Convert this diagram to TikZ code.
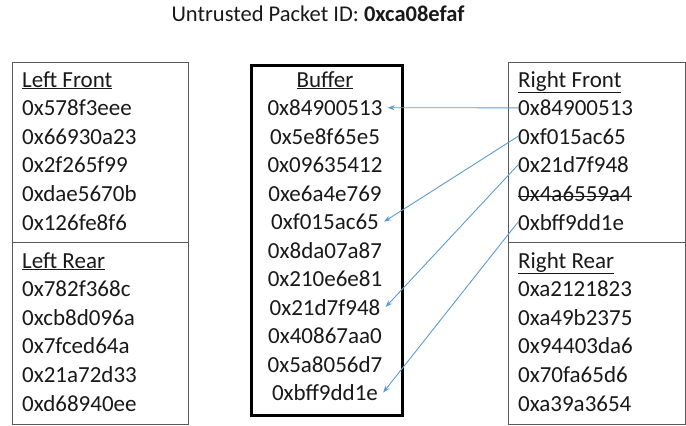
\documentclass[tikz,border=0pt]{standalone}
\usepackage{fontspec}
\setmainfont{Carlito}
\usetikzlibrary{arrows.meta}
\definecolor{linkblue}{RGB}{91,155,213}
\definecolor{framegray}{RGB}{89,89,89}
\definecolor{inkgray}{RGB}{25,25,25}
\begin{document}
\begin{tikzpicture}[x=1pt,y=-1pt,
  thinframe/.style={draw=framegray, line width=1.2pt, anchor=north west, inner sep=0pt},
  bufframe/.style={draw=black, line width=3pt, anchor=north west, inner sep=0pt},
  entry/.style={anchor=base west, inner sep=0pt, font=\fontsize{23}{28}\selectfont, text=inkgray},
  bufentry/.style={anchor=base, inner ysep=0pt, inner xsep=5pt, font=\fontsize{23}{28}\selectfont, text=inkgray},
  strike/.style={draw=inkgray, line width=1.1pt},
  link/.style={draw=linkblue, line width=0.9pt, -{Stealth[length=7pt,width=5pt]}}
]
\useasboundingbox (0,0) rectangle (686,426);

% heading
\node[anchor=base, font=\fontsize{22.5}{26}\selectfont, text=inkgray] (title) at (318,21)
  {Untrusted Packet ID: \textbf{0xca08efaf}};

% frames
\node[thinframe, minimum width=176pt, minimum height=180pt] (lfbox) at (12,62) {};
\node[thinframe, minimum width=176pt, minimum height=182pt] (lrbox) at (12,242) {};
\node[thinframe, minimum width=177pt, minimum height=180pt] (rfbox) at (508,62) {};
\node[thinframe, minimum width=177pt, minimum height=182pt] (rrbox) at (508,242) {};
\node[bufframe, minimum width=151pt, minimum height=350pt] (bufbox) at (249.5,63.5) {};

% left front
\node[entry] (lfh) at (22,87) {\underline{Left Front}};
\foreach \t [count=\i] in {0x578f3eee,0x66930a23,0x2f265f99,0xdae5670b,0x126fe8f6}
  \node[entry] (lf\i) at (22,{87+28.6*\i}) {\t};

% left rear
\node[entry] (lrh) at (22,268) {\underline{Left Rear}};
\foreach \t [count=\i] in {0x782f368c,0xcb8d096a,0x7fced64a,0x21a72d33,0xd68940ee}
  \node[entry] (lr\i) at (22,{268+28.6*\i}) {\t};

% buffer
\node[bufentry] (bufh) at (325,87) {\underline{Buffer}};
\foreach \t [count=\i] in {0x84900513,0x5e8f65e5,0x09635412,0xe6a4e769,0xf015ac65,0x8da07a87,0x210e6e81,0x21d7f948,0x40867aa0,0x5a8056d7,0xbff9dd1e}
  \node[bufentry] (buf\i) at (325,{87+28.5*\i}) {\t};

% right front
\node[entry] (rfh) at (518,87) {\underline{Right Front}};
\node[entry] (rf1) at (518,115.6) {0x84900513};
\node[entry] (rf2) at (518,144.2) {0xf015ac65};
\node[entry] (rf3) at (518,172.8) {0x21d7f948};
\node[entry] (rf4) at (518,201.4) {0x4a6559a4};
\node[entry] (rf5) at (518,230) {0xbff9dd1e};
\draw[strike] ([yshift=-2.8pt]rf4.west) -- ([yshift=-2.8pt]rf4.east);

% right rear
\node[entry] (rrh) at (518,268) {\underline{Right Rear}};
\foreach \t [count=\i] in {0xa2121823,0xa49b2375,0x94403da6,0x70fa65d6,0xa39a3654}
  \node[entry] (rr\i) at (518,{268+28.6*\i}) {\t};

% copies into the buffer
\draw[link] (rf1.west) -- (buf1.east);
\draw[link] (rf2.west) -- (buf5.east);
\draw[link] (rf3.west) -- (buf8.east);
\draw[link] (rf5.west) -- (buf11.east);
\end{tikzpicture}
\end{document}
